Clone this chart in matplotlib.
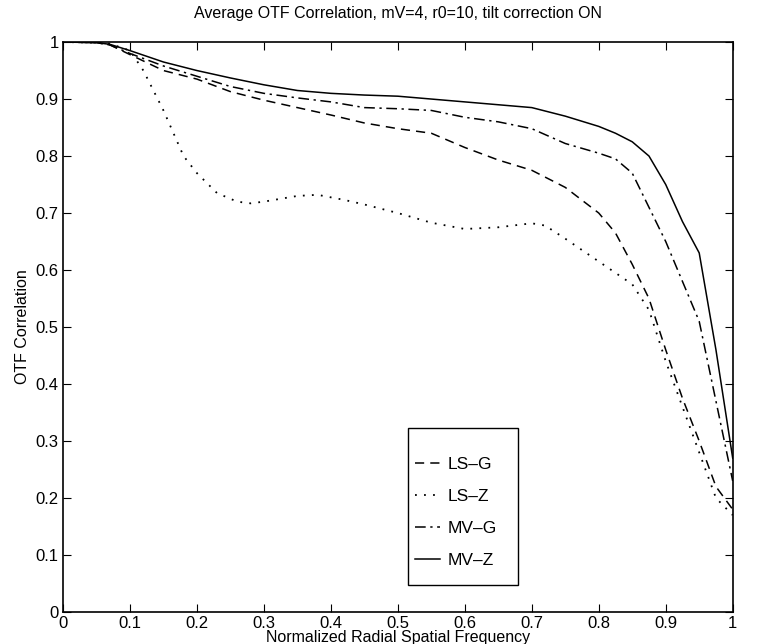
import matplotlib
matplotlib.use("Agg")
import matplotlib.pyplot as plt
from matplotlib.patches import Rectangle
import numpy as np

plt.rcParams['font.family'] = ['Liberation Sans', 'DejaVu Sans']

# normalized radial spatial frequency samples
freq = [0.0, 0.05, 0.07, 0.1, 0.15, 0.2, 0.25, 0.3, 0.35, 0.4, 0.45, 0.5,
        0.55, 0.6, 0.65, 0.7, 0.75, 0.8, 0.825, 0.85, 0.875, 0.9, 0.925,
        0.95, 0.975, 1.0]

ls_g = [1.0, 0.999, 0.995, 0.978, 0.95, 0.935, 0.913, 0.898, 0.885, 0.872,
        0.858, 0.848, 0.84, 0.815, 0.793, 0.775, 0.745, 0.70, 0.665, 0.61,
        0.55, 0.46, 0.375, 0.30, 0.22, 0.18]

mv_g = [1.0, 0.999, 0.995, 0.98, 0.958, 0.94, 0.922, 0.91, 0.902, 0.895,
        0.885, 0.883, 0.88, 0.868, 0.86, 0.848, 0.822, 0.805, 0.795, 0.77,
        0.71, 0.65, 0.58, 0.51, 0.37, 0.23]

mv_z = [1.0, 0.999, 0.996, 0.985, 0.965, 0.95, 0.937, 0.925, 0.915, 0.91,
        0.907, 0.905, 0.90, 0.895, 0.89, 0.885, 0.87, 0.852, 0.84, 0.825,
        0.80, 0.75, 0.685, 0.63, 0.46, 0.27]

# LS-Z has more structure at low frequency, so it gets its own grid
freq_lsz = [0.0, 0.05, 0.07, 0.1, 0.12, 0.15, 0.18, 0.2, 0.23, 0.26, 0.28,
            0.3, 0.35, 0.38, 0.42, 0.45, 0.5, 0.55, 0.6, 0.65, 0.7, 0.72,
            0.75, 0.8, 0.85, 0.875, 0.9, 0.925, 0.95, 0.975, 1.0]
ls_z = [1.0, 0.999, 0.997, 0.985, 0.95, 0.88, 0.80, 0.77, 0.735, 0.72, 0.717,
        0.72, 0.73, 0.732, 0.723, 0.715, 0.70, 0.683, 0.672, 0.675, 0.682,
        0.678, 0.655, 0.615, 0.575, 0.53, 0.44, 0.36, 0.28, 0.20, 0.17]

tick_labels = ['0', '0.1', '0.2', '0.3', '0.4', '0.5', '0.6', '0.7', '0.8', '0.9', '1']

fig = plt.figure(figsize=(7.61, 6.44), dpi=100)
ax = fig.add_axes([0.0828, 0.0497, 0.880, 0.885])

ax.plot(freq, ls_g, color='black', lw=1.1, dashes=(6, 4), label='LS\u2013G')
ax.plot(freq_lsz, ls_z, color='black', lw=1.3, dashes=(1, 4), label='LS\u2013Z')
ax.plot(freq, mv_g, color='black', lw=1.1, dashes=(7, 3, 1.5, 3), label='MV\u2013G')
ax.plot(freq, mv_z, color='black', lw=1.1, label='MV\u2013Z')

ax.set_xlim(0, 1)
ax.set_ylim(0, 1)
ax.set_xticks(np.arange(0, 1.01, 0.1))
ax.set_yticks(np.arange(0, 1.01, 0.1))
ax.set_xticklabels(tick_labels)
ax.set_yticklabels(tick_labels)
ax.tick_params(direction='in', top=True, right=True, length=6, width=0.8,
               labelsize=12, pad=3)
for sp in ax.spines.values():
    sp.set_linewidth(1.2)

ax.set_title('Average OTF Correlation, mV=4, r0=10, tilt correction ON',
             fontsize=11.5, pad=17)
ax.set_xlabel('Normalized Radial Spatial Frequency', fontsize=11.5, labelpad=-1)
ax.set_ylabel('OTF Correlation', fontsize=11.5, labelpad=4)

# legend box drawn separately so the entries can sit off-centre in it
ax.add_patch(Rectangle((0.515, 0.047), 0.164, 0.275, transform=ax.transAxes,
                       facecolor='white', edgecolor='black', lw=1.0, zorder=4))
ax.legend(loc='center', bbox_to_anchor=(0.587, 0.175), fontsize=12.5,
          handlelength=1.45, handletextpad=0.45, labelspacing=0.97,
          borderpad=0, borderaxespad=0, frameon=False)

fig.savefig('out.png', dpi=100)
